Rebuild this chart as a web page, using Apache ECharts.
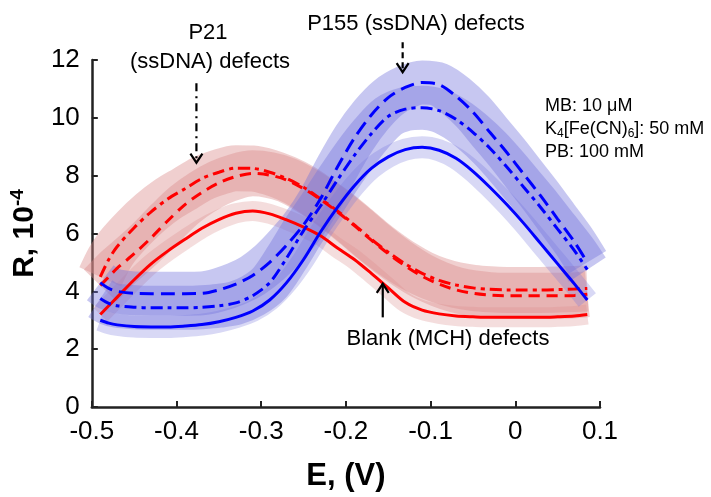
<!DOCTYPE html>
<html>
<head>
<meta charset="utf-8">
<script src="https://cdn.jsdelivr.net/npm/echarts@6/dist/echarts.min.js"></script>
<style>html,body{margin:0;padding:0;background:#fff}#c{width:711px;height:497px}</style>
</head>
<body>
<div id="c"></div>
<script>
// ---- data ----
const potentials = [-0.49,-0.48,-0.47,-0.45,-0.43,-0.41,-0.39,-0.37,-0.35,-0.33,-0.31,-0.29,-0.27,-0.25,-0.23,-0.21,-0.19,-0.17,-0.15,-0.13,-0.11,-0.09,-0.07,-0.05,-0.03,-0.01,0.01,0.03,0.05,0.07,0.085];

const redSolid   = [3.2,3.5,3.8,4.4,4.95,5.4,5.8,6.18,6.48,6.7,6.78,6.68,6.47,6.22,5.92,5.5,5.1,4.62,4.12,3.62,3.35,3.22,3.15,3.12,3.1,3.1,3.1,3.1,3.12,3.15,3.2];
const redDashDot = [4.5,5.1,5.55,6.2,6.75,7.2,7.55,7.9,8.12,8.26,8.25,8.12,7.9,7.6,7.2,6.78,6.3,5.8,5.35,4.95,4.62,4.38,4.22,4.12,4.07,4.05,4.05,4.05,4.06,4.08,4.1];
const redDashed  = [4.2,4.5,4.8,5.3,5.85,6.45,7.0,7.42,7.75,7.97,8.08,8.02,7.85,7.55,7.18,6.75,6.27,5.77,5.3,4.88,4.52,4.25,4.05,3.93,3.87,3.85,3.85,3.85,3.85,3.86,3.9];

const blueSolid   = [3.0,2.9,2.84,2.78,2.77,2.77,2.8,2.85,2.95,3.1,3.32,3.7,4.3,5.1,6.05,6.9,7.65,8.25,8.65,8.9,8.98,8.88,8.6,8.15,7.6,7.0,6.35,5.65,4.95,4.25,3.7];
const blueDashed  = [4.3,4.1,4.0,3.93,3.92,3.92,3.92,3.93,4.05,4.25,4.55,5.0,5.6,6.3,7.2,8.3,9.3,10.1,10.7,11.05,11.22,11.15,10.75,10.2,9.5,8.8,8.05,7.3,6.5,5.7,5.0];
const blueDashDot = [3.75,3.58,3.5,3.45,3.43,3.43,3.43,3.45,3.5,3.6,3.85,4.3,5.15,6.1,6.95,7.85,8.7,9.45,10.05,10.3,10.35,10.25,9.95,9.5,8.95,8.3,7.6,6.9,6.15,5.4,4.75];

const xTickLabels = ['-0.5','-0.4','-0.3','-0.2','-0.1','0','0.1'];
const yTickLabels = ['0','2','4','6','8','10','12'];

// ---- chart ----
const FONT = '"Liberation Sans", Arial, Helvetica, sans-serif';
const X_MIN = -0.5, X_STEP = 0.1, Y_MIN = 0, Y_STEP = 2;
const pairs = ys => potentials.map((x, i) => [x, ys[i]]);

const RED = '#ff0000', BLUE = '#0000ff';
const RED_CLOUD = 'rgb(219,141,141)', BLUE_CLOUD = 'rgb(115,115,220)';

function cloud(name, ys, color, width, opacity, z, clip) {
  return { name, type: 'line', data: pairs(ys), smooth: 0.3, symbol: 'none', silent: true, z, clip,
    lineStyle: { color, width, opacity, cap: 'butt', join: 'round' } };
}
function curve(name, ys, color, dash, z) {
  return { name, type: 'line', data: pairs(ys), smooth: 0.3, symbol: 'none', z,
    lineStyle: { color, width: 3, type: dash, cap: 'butt' } };
}

const chart = echarts.init(document.getElementById('c'), null, { renderer: 'canvas' });

chart.setOption({
  animation: false,
  backgroundColor: '#fff',
  grid: { left: 91, right: 111, top: 60, bottom: 88 },
  xAxis: {
    type: 'value', min: X_MIN, max: 0.1, interval: X_STEP,
    name: 'E, (V)', nameLocation: 'middle', nameGap: 54,
    nameTextStyle: { fontFamily: FONT, fontSize: 31, fontWeight: 'bold', color: '#000' },
    axisLine: { onZero: false, lineStyle: { color: '#222', width: 2.5 } },
    axisTick: { inside: true, length: 6, lineStyle: { color: '#222', width: 2 } },
    axisLabel: { margin: 12, fontFamily: FONT, fontSize: 26, color: '#000',
      formatter: v => xTickLabels[Math.round((v - X_MIN) / X_STEP)] },
    splitLine: { show: false }
  },
  yAxis: {
    type: 'value', min: Y_MIN, max: 12, interval: Y_STEP,
    name: '{a|R, 10}{b|-4}', nameLocation: 'middle', nameGap: 48, nameRotate: 90,
    nameTextStyle: { color: '#000', rich: {
      a: { fontFamily: FONT, fontSize: 30, fontWeight: 'bold', lineHeight: 34, color: '#000' },
      b: { fontFamily: FONT, fontSize: 19, fontWeight: 'bold', lineHeight: 16, verticalAlign: 'top', color: '#000' }
    } },
    axisLine: { onZero: false, lineStyle: { color: '#222', width: 2.5 } },
    axisTick: { inside: true, length: 6, lineStyle: { color: '#222', width: 2 } },
    axisLabel: { margin: 12, fontFamily: FONT, fontSize: 26, color: '#000',
      formatter: v => yTickLabels[Math.round((v - Y_MIN) / Y_STEP)] },
    splitLine: { show: false }
  },
  series: [
    cloud('red solid cloud', redSolid, RED_CLOUD, 20, 0.3, 1, true),
    cloud('red dash-dot cloud', redDashDot, RED_CLOUD, 46, 0.42, 1, true),
    cloud('red dashed cloud', redDashed, RED_CLOUD, 46, 0.42, 1, true),
    cloud('blue solid cloud', blueSolid, BLUE_CLOUD, 22, 0.28, 2, false),
    cloud('blue dash-dot cloud', blueDashDot, BLUE_CLOUD, 44, 0.4, 2, false),
    cloud('blue dashed cloud', blueDashed, BLUE_CLOUD, 44, 0.4, 2, false),
    curve('Blank (MCH) defects – red', redSolid, RED, 'solid', 5),
    curve('P21 (ssDNA) defects – red', redDashDot, RED, [12, 5, 4, 5], 5),
    curve('P155 (ssDNA) defects – red', redDashed, RED, [11, 7], 5),
    curve('Blank (MCH) defects – blue', blueSolid, BLUE, 'solid', 6),
    curve('P21 (ssDNA) defects – blue', blueDashDot, BLUE, [12, 5, 4, 5], 6),
    curve('P155 (ssDNA) defects – blue', blueDashed, BLUE, [14, 7], 6)
  ]
});

// ---- annotations (arrows anchored in data coordinates) ----
const px = p => chart.convertToPixel({ gridIndex: 0 }, p);
function arrow(from, to, dash, up) {
  const a = px(from), b = px(to);
  const d = up ? 9 : -9;
  return [
    { type: 'polyline', z: 20, shape: { points: [a, b] },
      style: { stroke: '#000', lineWidth: 2.2, lineDash: dash, fill: null } },
    { type: 'polyline', z: 20, shape: { points: [[b[0] - 6, b[1] + d], b, [b[0] + 6, b[1] + d]] },
      style: { stroke: '#000', lineWidth: 2.2, fill: null } }
  ];
}
function label(text, x, y, size, align) {
  return { type: 'text', z: 20, x, y, style: { text, fontFamily: FONT, fontSize: size, fill: '#000',
    textAlign: align || 'center', align: align || 'center', textVerticalAlign: 'middle', verticalAlign: 'middle' } };
}
const sub = { n: { fontFamily: FONT, fontSize: 18, lineHeight: 22, fill: '#000', color: '#000' },
              s: { fontFamily: FONT, fontSize: 12, lineHeight: 10, verticalAlign: 'bottom', fill: '#000', color: '#000' } };

chart.setOption({
  graphic: [
    ...arrow([-0.3765, 11.2], [-0.3765, 8.45], [8, 5, 2, 5], false),
    ...arrow([-0.133, 12.61], [-0.133, 11.58], [6, 4], false),
    ...arrow([-0.1565, 3.1], [-0.1565, 4.26], null, true),
    label('P21', 208, 33, 22),
    label('(ssDNA) defects', 210, 62, 22),
    label('P155 (ssDNA) defects', 416, 24, 22),
    label('Blank (MCH) defects', 448, 339, 22),
    label('MB: 10 μM', 545, 106, 18, 'left'),
    { type: 'text', z: 20, x: 545, y: 129, style: { text: '{n|K}{s|4}{n|[Fe(CN)}{s|6}{n|]: 50 mM}', rich: sub,
      textAlign: 'left', align: 'left', textVerticalAlign: 'middle', verticalAlign: 'middle' } },
    label('PB: 100 mM', 545, 152, 18, 'left')
  ]
});
</script>
</body>
</html>
